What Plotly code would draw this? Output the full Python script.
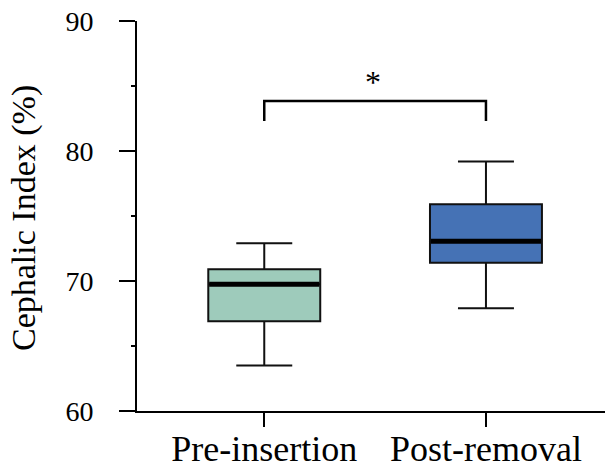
import plotly.graph_objects as go

categories = ["Pre-insertion", "Post-removal"]
lower_whisker = [63.5, 67.9]
q1 = [66.9, 71.4]
median = [69.75, 73.05]
q3 = [70.9, 75.9]
upper_whisker = [72.9, 79.2]
fill_colors = ["#9ECBBB", "#4572B5"]

y_ticks = [60, 70, 80, 90]
bracket_top = 83.85
bracket_bottom = 82.3
star_y = 85.3
star_text = "*"
y_title = "Cephalic Index (%)"

FONT = "Liberation Serif"
BOX_W = 0.505

fig = go.Figure()
for i, cat in enumerate(categories):
    fig.add_trace(go.Box(
        x=[cat], q1=[q1[i]], median=[median[i]], q3=[q3[i]],
        lowerfence=[lower_whisker[i]], upperfence=[upper_whisker[i]],
        width=BOX_W, whiskerwidth=0.5,
        fillcolor=fill_colors[i],
        line=dict(color="#111111", width=2),
        boxpoints=False, showlegend=False, hoverinfo="skip",
    ))
    # thick median line
    fig.add_shape(type="line", xref="x", yref="y",
                  x0=i - BOX_W / 2 + 0.004, x1=i + BOX_W / 2 - 0.004,
                  y0=median[i], y1=median[i],
                  line=dict(color="black", width=5), layer="above")

# significance bracket
fig.add_shape(type="path", xref="x", yref="y",
              path=f"M 0,{bracket_bottom} L 0,{bracket_top} L 1,{bracket_top} L 1,{bracket_bottom}",
              line=dict(color="black", width=2.5))
fig.add_annotation(x=0.49, y=star_y, xref="x", yref="y", text=star_text,
                   showarrow=False, font=dict(family=FONT, size=32, color="black"),
                   yanchor="middle")

# y-axis title
fig.add_annotation(x=0, y=0.5, xref="paper", yref="paper", text=y_title,
                   textangle=-90, showarrow=False, xanchor="center", yanchor="middle",
                   xshift=-113, yshift=-2,
                   font=dict(family=FONT, size=34, color="black"))

fig.update_layout(
    width=613, height=466,
    margin=dict(l=129, r=8, t=13, b=63, autoexpand=False),
    paper_bgcolor="white", plot_bgcolor="white",
    boxmode="overlay",
    font=dict(family=FONT, color="black"),
)
fig.update_xaxes(
    type="category", categoryorder="array", categoryarray=categories,
    range=[-0.574, 1.573], automargin=False,
    showline=True, linecolor="black", linewidth=2,
    ticks="outside", ticklen=14, tickwidth=2, tickcolor="black",
    tickfont=dict(family=FONT, size=36, color="black"),
    ticklabelstandoff=-9, ticklabeloverflow="allow",
    showgrid=False, zeroline=False,
)
fig.update_yaxes(
    range=[60, 90], tickvals=y_ticks, automargin=False,
    showline=True, linecolor="black", linewidth=2,
    ticks="outside", ticklen=16, tickwidth=2, tickcolor="black",
    tickfont=dict(family=FONT, size=28, color="black"),
    ticklabelstandoff=20, ticklabeloverflow="allow",
    minor=dict(ticks="outside", ticklen=4, tickwidth=1.5, tickcolor="black", dtick=5, showgrid=False),
    showgrid=False, zeroline=False,
)

fig.write_html("out.html")
